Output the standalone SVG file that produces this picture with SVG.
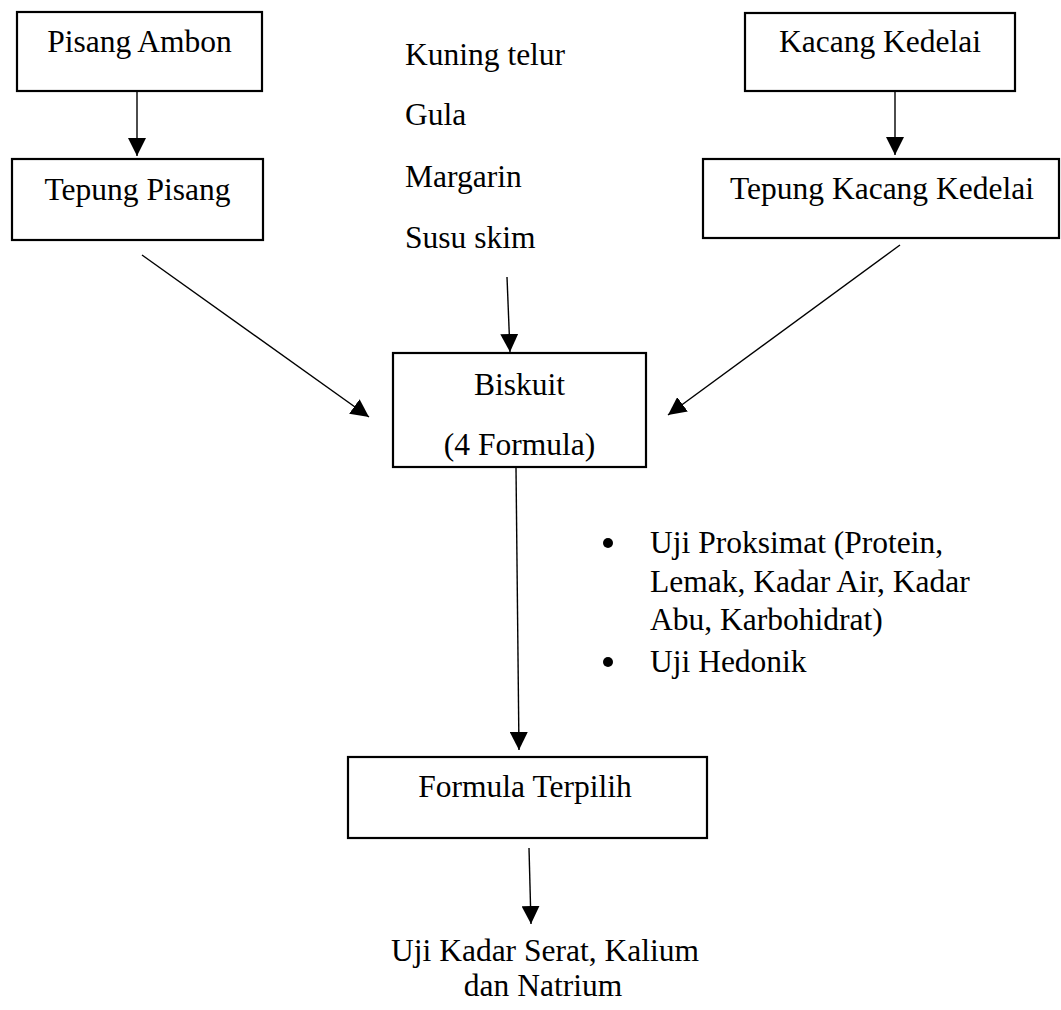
<svg xmlns="http://www.w3.org/2000/svg" width="1061" height="1010" viewBox="0 0 1061 1010">
<style>
.box{fill:#fff;stroke:#000;stroke-width:2.2}
.t{font-family:"Liberation Serif","Times New Roman",serif;font-size:31.5px;fill:#000}
.c{text-anchor:middle}
.ln{stroke:#000;stroke-width:1.4;fill:none;marker-end:url(#ah)}
</style>
<defs>
<marker id="ah" markerUnits="userSpaceOnUse" markerWidth="18" markerHeight="18" viewBox="0 0 16 16" refX="16" refY="8" orient="auto">
<path d="M0,0 L16,8 L0,16 Z" fill="#000"/>
</marker>
</defs>
<rect width="1061" height="1010" fill="#fff"/>
<g id="connectors">
<line class="ln" x1="137" y1="91" x2="137" y2="156"/>
<line class="ln" x1="895" y1="91" x2="895" y2="155"/>
<line class="ln" x1="142" y1="255" x2="369" y2="417"/>
<line class="ln" x1="507" y1="277" x2="510" y2="352"/>
<line class="ln" x1="900" y1="245" x2="668" y2="415"/>
<line class="ln" x1="516" y1="468" x2="519" y2="750"/>
<line class="ln" x1="529" y1="848" x2="531" y2="924"/>
</g>
<g id="pisang-ambon">
<rect class="box" x="17" y="12" width="245" height="79"/>
<text class="t c" x="139.5" y="52">Pisang Ambon</text>
</g>
<g id="tepung-pisang">
<rect class="box" x="12" y="159" width="251" height="81"/>
<text class="t c" x="137.5" y="200">Tepung Pisang</text>
</g>
<g id="kacang-kedelai">
<rect class="box" x="745" y="13" width="270" height="78"/>
<text class="t c" x="880" y="52">Kacang Kedelai</text>
</g>
<g id="tepung-kacang-kedelai">
<rect class="box" x="703" y="159" width="356" height="79"/>
<text class="t c" x="882" y="199">Tepung Kacang Kedelai</text>
</g>
<g id="bahan">
<text class="t" x="405" y="65">Kuning telur</text>
<text class="t" x="405" y="125">Gula</text>
<text class="t" x="405" y="187">Margarin</text>
<text class="t" x="405" y="248">Susu skim</text>
</g>
<g id="biskuit">
<rect class="box" x="393" y="353" width="253" height="114"/>
<text class="t c" x="519.5" y="395">Biskuit</text>
<text class="t c" x="519.5" y="455">(4 Formula)</text>
</g>
<g id="uji-list">
<circle cx="608" cy="543" r="5"/>
<circle cx="608" cy="662" r="5"/>
<text class="t" x="650" y="553">Uji Proksimat (Protein,</text>
<text class="t" x="650" y="592">Lemak, Kadar Air, Kadar</text>
<text class="t" x="650" y="630">Abu, Karbohidrat)</text>
<text class="t" x="650" y="672">Uji Hedonik</text>
</g>
<g id="formula-terpilih">
<rect class="box" x="348" y="757" width="359" height="81"/>
<text class="t c" x="525" y="797">Formula Terpilih</text>
</g>
<g id="uji-serat">
<text class="t c" x="545" y="961">Uji Kadar Serat, Kalium</text>
<text class="t c" x="543" y="996">dan Natrium</text>
</g>
</svg>
